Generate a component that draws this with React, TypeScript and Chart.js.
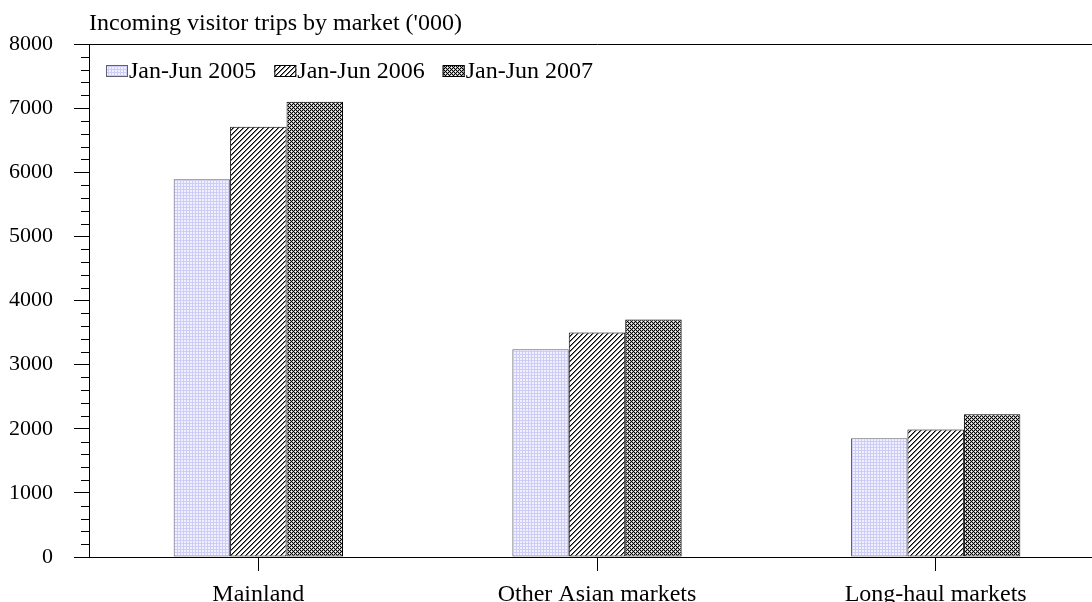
import React, { useEffect, useRef } from "react";
import { Chart, registerables } from "chart.js";

Chart.register(...registerables);

const categories = ["Mainland", "Other Asian markets", "Long-haul markets"];
const seriesLabels = ["Jan-Jun 2005", "Jan-Jun 2006", "Jan-Jun 2007"];
const values2005 = [5890, 3240, 1850];
const values2006 = [6710, 3500, 1990];
const values2007 = [7100, 3705, 2225];
const yMin = 0;
const yMax = 8000;
const yMajorStep = 1000;
const yMinorStep = 200;
const titleText = "Incoming visitor trips by market ('000)";

const FONT_FAMILY = "'Liberation Serif', 'DejaVu Serif', serif";
const FONT_SIZE = 24;
const Y_FONT_SIZE = 22;

type RGB = [number, number, number];

function makePattern(size: number, fn: (x: number, y: number) => RGB): CanvasPattern | string {
  const c = document.createElement("canvas");
  c.width = size;
  c.height = size;
  const cx = c.getContext("2d");
  if (!cx) return "#ccc";
  const img = cx.createImageData(size, size);
  for (let y = 0; y < size; y++) {
    for (let x = 0; x < size; x++) {
      const [r, g, b] = fn(x, y);
      const i = (y * size + x) * 4;
      img.data[i] = r;
      img.data[i + 1] = g;
      img.data[i + 2] = b;
      img.data[i + 3] = 255;
    }
  }
  cx.putImageData(img, 0, 0);
  return cx.createPattern(c, "repeat") || "#ccc";
}

export default function App() {
  const canvasRef = useRef<HTMLCanvasElement | null>(null);

  useEffect(() => {
    const canvas = canvasRef.current;
    if (!canvas) return;

    const pat2005 = makePattern(3, (x, y) =>
      x === 0 || y === 0 ? [205, 205, 245] : [240, 240, 255]
    );
    const pat2006 = makePattern(5, (x, y) => {
      const m = (x + y) % 5;
      if (m === 0) return [0, 0, 0];
      if (m === 1) return [120, 120, 120];
      return [255, 255, 255];
    });
    const pat2007 = makePattern(4, (x, y) => {
      const a = x % 4;
      const b = y % 4;
      if ((a === 1 && b === 1) || (a === 3 && b === 3)) return [255, 255, 255];
      const isBlack =
        (a === 0 && b === 0) || (a === 2 && b === 0) || (a === 0 && b === 2) ||
        (a === 2 && b === 2) || (a === 1 && b === 3) || (a === 3 && b === 1);
      return isBlack ? [0, 0, 0] : [175, 175, 175];
    });

    const titlePlugin = {
      id: "customTitle",
      afterDraw(chart: any) {
        const { ctx, chartArea } = chart;
        ctx.save();
        ctx.font = `${FONT_SIZE}px ${FONT_FAMILY}`;
        ctx.fillStyle = "#000";
        ctx.textBaseline = "alphabetic";
        ctx.textAlign = "left";
        ctx.fillText(titleText, chartArea.left, 30);
        ctx.restore();
      },
    };

    const legendPlugin = {
      id: "customLegend",
      afterDatasetsDraw(chart: any) {
        const { ctx, chartArea } = chart;
        ctx.save();
        ctx.font = `${FONT_SIZE}px ${FONT_FAMILY}`;
        ctx.textBaseline = "alphabetic";
        ctx.textAlign = "left";
        let x = chartArea.left + 17;
        const boxTop = 65;
        const boxW = 22;
        const boxH = 12;
        chart.data.datasets.forEach((ds: any) => {
          ctx.fillStyle = ds.backgroundColor;
          ctx.fillRect(x, boxTop, boxW, boxH);
          ctx.strokeStyle = ds.borderColor;
          ctx.lineWidth = 1;
          ctx.strokeRect(x + 0.5, boxTop + 0.5, boxW - 1, boxH - 1);
          ctx.fillStyle = "#000";
          ctx.fillText(ds.label, x + boxW + 1, 78);
          x += boxW + 1 + ctx.measureText(ds.label).width + 18;
        });
        ctx.restore();
      },
    };

    const minorTickPlugin = {
      id: "minorTicks",
      afterDraw(chart: any) {
        const { ctx } = chart;
        const yScale = chart.scales.y;
        ctx.save();
        ctx.strokeStyle = "#000";
        ctx.lineWidth = 1;
        ctx.beginPath();
        for (let v = yMin; v <= yMax; v += yMinorStep) {
          if (v % yMajorStep === 0) continue;
          const py = Math.round(yScale.getPixelForValue(v)) + 0.5;
          ctx.moveTo(yScale.right - 8, py);
          ctx.lineTo(yScale.right, py);
        }
        ctx.stroke();
        ctx.restore();
      },
    };

    const chart = new Chart(canvas, {
      type: "bar",
      data: {
        labels: categories,
        datasets: [
          {
            label: seriesLabels[0],
            data: values2005,
            backgroundColor: pat2005 as any,
            borderColor: "#606070",
            borderWidth: 1,
            borderSkipped: false,
            categoryPercentage: 0.5,
            barPercentage: 1.0,
          },
          {
            label: seriesLabels[1],
            data: values2006,
            backgroundColor: pat2006 as any,
            borderColor: "#000",
            borderWidth: 1,
            borderSkipped: false,
            categoryPercentage: 0.5,
            barPercentage: 1.0,
          },
          {
            label: seriesLabels[2],
            data: values2007,
            backgroundColor: pat2007 as any,
            borderColor: "#000",
            borderWidth: 1,
            borderSkipped: false,
            categoryPercentage: 0.5,
            barPercentage: 1.0,
          },
        ],
      },
      options: {
        responsive: false,
        animation: false,
        devicePixelRatio: 1,
        layout: { padding: { top: 44, left: 0, right: 0, bottom: 0 } },
        plugins: {
          legend: { display: false },
          title: { display: false },
          tooltip: { enabled: false },
        },
        scales: {
          x: {
            type: "category",
            afterFit(scale: any) {
              scale.height = 45;
            },
            grid: {
              display: true,
              drawOnChartArea: false,
              drawTicks: true,
              tickLength: 14,
              offset: false,
              color: "#000",
            },
            border: { display: true, color: "#000", width: 1 },
            ticks: {
              color: "#000",
              padding: 9,
              maxRotation: 0,
              font: { family: FONT_FAMILY, size: FONT_SIZE },
            },
          },
          y: {
            min: yMin,
            max: yMax,
            afterFit(scale: any) {
              scale.width = 89;
            },
            grid: {
              display: true,
              drawOnChartArea: true,
              drawTicks: true,
              tickLength: 15,
              color: (ctx: any) =>
                ctx.tick && (ctx.tick.value === yMin || ctx.tick.value === yMax) ? "#000" : "rgba(0,0,0,0)",
              tickColor: (ctx: any) =>
                ctx.tick && ctx.tick.value % yMajorStep === 0 ? "#000" : "rgba(0,0,0,0)",
            },
            border: { display: true, color: "#000", width: 1 },
            ticks: {
              stepSize: yMajorStep,
              color: "#000",
              padding: 21,
              font: { family: FONT_FAMILY, size: Y_FONT_SIZE },
              callback: (value: any) => String(value),
            },
          },
        },
      },
      plugins: [titlePlugin, legendPlugin, minorTickPlugin],
    });

    return () => {
      chart.destroy();
    };
  }, []);

  return (
    <div
      style={{
        position: "fixed",
        left: 0,
        top: 0,
        width: 1092,
        height: 602,
        overflow: "hidden",
        background: "#fff",
      }}
    >
      <canvas ref={canvasRef} width={1105} height={602} style={{ display: "block" }} />
    </div>
  );
}
